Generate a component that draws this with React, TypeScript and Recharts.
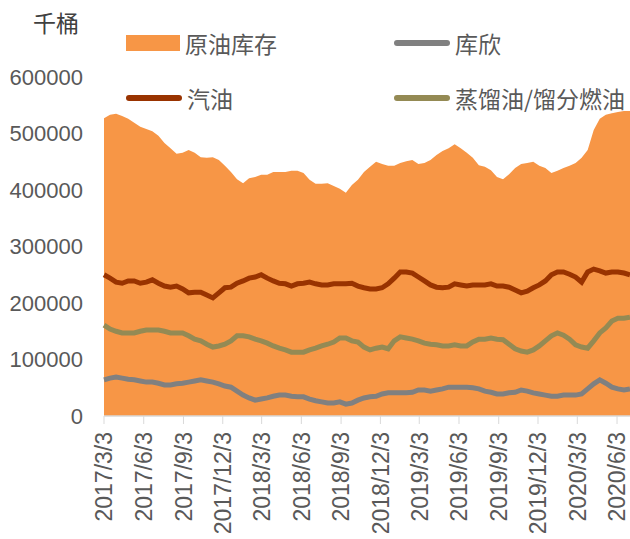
import { Area, ComposedChart, Line, XAxis, YAxis } from "recharts"

// fortnightly samples starting 2017/3/3, units: thousand barrels
const crude = [
  527000, 533000, 535000, 531000, 526000, 519000, 512000, 508000, 504000, 496000,
  483000, 474000, 464000, 466000, 471000, 466000, 458000, 457000, 458000, 453000,
  443000, 432000, 419000, 412000, 421000, 423000, 427000, 427000, 432000, 432000,
  432000, 434000, 434000, 430000, 418000, 411000, 411000, 412000, 407000, 402000,
  395000, 409000, 418000, 432000, 441000, 450000, 446000, 443000, 443000, 448000,
  451000, 453000, 446000, 448000, 453000, 462000, 469000, 474000, 481000, 474000,
  466000, 457000, 444000, 441000, 435000, 423000, 419000, 428000, 439000, 446000,
  448000, 450000, 443000, 439000, 430000, 434000, 439000, 443000, 448000, 457000,
  471000, 506000, 526000, 533000, 536000, 538000, 540000, 540000,
]

const cushing = [
  64000, 67000, 69000, 67000, 65000, 64000, 62000, 60000, 60000, 58000,
  55000, 55000, 57000, 58000, 60000, 62000, 64000, 62000, 60000, 57000,
  53000, 51000, 44000, 37000, 32000, 28000, 30000, 32000, 35000, 37000,
  37000, 35000, 34000, 34000, 30000, 27000, 25000, 23000, 23000, 25000,
  21000, 23000, 28000, 32000, 34000, 35000, 39000, 41000, 41000, 41000,
  41000, 42000, 46000, 46000, 44000, 46000, 48000, 51000, 51000, 51000,
  51000, 50000, 48000, 44000, 42000, 39000, 39000, 41000, 42000, 46000,
  44000, 41000, 39000, 37000, 35000, 35000, 37000, 37000, 37000, 39000,
  48000, 57000, 64000, 58000, 51000, 48000, 46000, 48000,
]

const gasoline = [
  250000, 244000, 237000, 235000, 239000, 239000, 235000, 237000, 241000, 235000,
  230000, 228000, 230000, 225000, 218000, 219000, 219000, 214000, 209000, 218000,
  227000, 228000, 235000, 239000, 244000, 246000, 250000, 244000, 239000, 235000,
  234000, 230000, 234000, 235000, 237000, 234000, 232000, 232000, 234000, 234000,
  234000, 235000, 230000, 227000, 225000, 225000, 227000, 234000, 244000, 255000,
  255000, 253000, 246000, 239000, 232000, 228000, 227000, 228000, 234000, 232000,
  230000, 232000, 232000, 232000, 234000, 230000, 230000, 228000, 223000, 218000,
  221000, 227000, 232000, 239000, 250000, 255000, 255000, 251000, 246000, 237000,
  255000, 260000, 257000, 253000, 255000, 255000, 253000, 250000,
]

const distillate = [
  161000, 154000, 150000, 147000, 147000, 147000, 150000, 152000, 152000, 152000,
  150000, 147000, 147000, 147000, 142000, 136000, 133000, 127000, 122000, 124000,
  127000, 133000, 142000, 142000, 140000, 136000, 133000, 129000, 124000, 120000,
  117000, 113000, 113000, 113000, 117000, 120000, 124000, 127000, 131000, 138000,
  138000, 133000, 131000, 122000, 117000, 120000, 122000, 119000, 133000, 140000,
  138000, 136000, 133000, 129000, 127000, 126000, 124000, 124000, 126000, 124000,
  124000, 131000, 136000, 136000, 138000, 136000, 135000, 127000, 119000, 115000,
  113000, 117000, 124000, 133000, 142000, 147000, 143000, 136000, 126000, 122000,
  120000, 133000, 147000, 156000, 168000, 173000, 173000, 175000,
]

const tickLabels = [
  "2017/3/3", "2017/6/3", "2017/9/3", "2017/12/3", "2018/3/3", "2018/6/3", "2018/9/3",
  "2018/12/3", "2019/3/3", "2019/6/3", "2019/9/3", "2019/12/3", "2020/3/3", "2020/6/3",
]

const yTicks = [0, 100000, 200000, 300000, 400000, 500000, 600000]

const START = Date.UTC(2017, 2, 3)
const DAY = 86400000

const dayOf = (label: string) => {
  const [y, m, d] = label.split("/").map(Number)
  return Math.round((Date.UTC(y, m - 1, d) - START) / DAY)
}

const tickDays = tickLabels.map(dayOf)
const labelByDay: Record<number, string> = {}
tickDays.forEach((d, i) => (labelByDay[d] = tickLabels[i]))

const data = crude.map((v, i) => ({
  day: i * 14,
  crude: v,
  cushing: cushing[i],
  gasoline: gasoline[i],
  distillate: distillate[i],
}))

const NUM_FONT = "'Liberation Sans', Arial, sans-serif"
const CJK_FONT = "'Noto Sans CJK SC', 'Liberation Sans', sans-serif"
const TEXT = "#595959"

const ORANGE = "#F79646"
const GRAY = "#808080"
const BROWN = "#993300"
const OLIVE = "#948A54"

function XTick(props: any) {
  const { x, y, payload } = props
  return (
    <text
      x={x}
      y={y}
      transform={`rotate(-90, ${x}, ${y})`}
      textAnchor="end"
      dy="0.36em"
      fill={TEXT}
      fontSize={23}
      fontFamily={NUM_FONT}
    >
      {labelByDay[payload.value]}
    </text>
  )
}

function LegendBox() {
  const item = (left: number, top: number, color: string, label: string, box = false) => (
    <div style={{ position: "absolute", left, top, display: "flex", alignItems: "center", height: 30 }}>
      <div
        style={{
          width: box ? 54 : 56,
          height: box ? 16 : 6,
          background: color,
          borderRadius: box ? 0 : 3,
        }}
      />
      <span style={{ marginLeft: 5, fontSize: 23, color: TEXT, fontFamily: CJK_FONT, whiteSpace: "nowrap" }}>
        {label}
      </span>
    </div>
  )
  return (
    <div style={{ position: "absolute", left: 0, top: 0, width: 630, height: 120, pointerEvents: "none" }}>
      <div
        style={{ position: "absolute", left: 33, top: 5, fontSize: 23, color: "#404040", fontFamily: CJK_FONT }}
      >
        千桶
      </div>
      {item(126, 28, ORANGE, "原油库存", true)}
      {item(394, 28, GRAY, "库欣")}
      {item(126, 83, BROWN, "汽油")}
      {item(394, 83, OLIVE, "蒸馏油/馏分燃油")}
    </div>
  )
}

export default function App() {
  return (
    <div style={{ position: "absolute", left: 0, top: 0, width: 630, height: 539 }}>
      <ComposedChart width={630} height={539} data={data} margin={{ top: 77, right: 0, bottom: 0, left: 0 }}>
        <XAxis
          dataKey="day"
          type="number"
          domain={[0, data[data.length - 1].day]}
          ticks={tickDays}
          interval={0}
          height={123}
          tick={<XTick />}
          tickSize={8}
          tickMargin={8}
          stroke="#D9D9D9"
          axisLine={{ stroke: "#D9D9D9", strokeWidth: 1.5 }}
          tickLine={{ stroke: "#D9D9D9" }}
        />
        <YAxis
          domain={[0, 600000]}
          ticks={yTicks}
          width={104}
          axisLine={false}
          tickLine={false}
          tickMargin={15}
          tick={{ fill: TEXT, fontSize: 22, fontFamily: NUM_FONT }}
        />
        <Area
          dataKey="crude"
          name="原油库存"
          type="linear"
          fill={ORANGE}
          fillOpacity={1}
          stroke="none"
          isAnimationActive={false}
        />
        <Line dataKey="cushing" name="库欣" type="linear" stroke={GRAY} strokeWidth={5} dot={false} isAnimationActive={false} />
        <Line dataKey="gasoline" name="汽油" type="linear" stroke={BROWN} strokeWidth={5} dot={false} isAnimationActive={false} />
        <Line
          dataKey="distillate"
          name="蒸馏油/馏分燃油"
          type="linear"
          stroke={OLIVE}
          strokeWidth={5}
          dot={false}
          isAnimationActive={false}
        />
      </ComposedChart>
      <LegendBox />
    </div>
  )
}
